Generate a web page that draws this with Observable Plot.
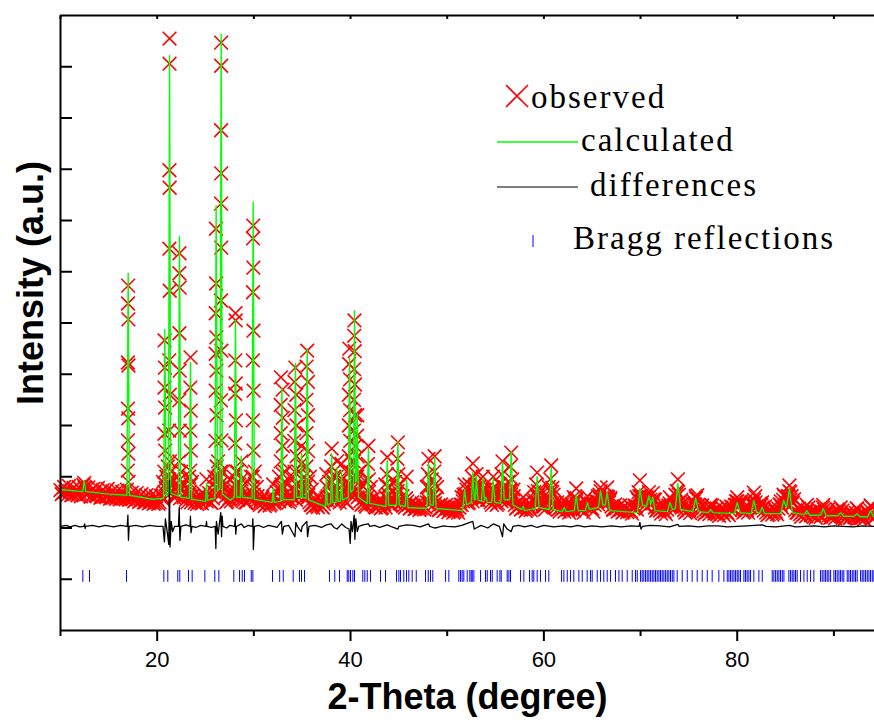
<!DOCTYPE html>
<html>
<head>
<meta charset="utf-8">
<script src="https://cdn.jsdelivr.net/npm/d3@7"></script>
<script src="https://cdn.jsdelivr.net/npm/@observablehq/plot@0.6"></script>
<style>
  html, body { margin: 0; padding: 0; background: #fff; }
</style>
</head>
<body>
<div id="chart"></div>
<script>
// ---------- DATA (2θ in degrees, intensity in arbitrary units ×1000) ----------
const obsStart = 10;
const obsStep = 0.25;
const obsBackground = [
  2.74,2.68,2.71,2.65, 2.72,2.66,2.70,2.64, 2.69,2.73,2.78,2.66, 2.70,2.63,2.68,2.62,
  2.67,2.61,2.66,2.60, 2.65,2.59,2.63,2.57, 2.64,2.58,2.62,2.56, 2.62,2.60,2.57,2.54,
  2.58,2.52,2.56,2.50, 2.55,2.50,2.54,2.49, 2.56,2.50,2.62,2.70, 2.75,2.85,2.70,2.60,
  2.62,2.70,2.78,2.60, 2.55,2.62,2.50,2.56, 2.52,2.58,2.50,2.55, 2.62,2.55,2.50,2.58,
  2.90,2.75,2.85,2.70, 2.60,2.52,2.58,2.62, 2.75,2.60,2.70,2.65, 2.55,2.50,2.58,2.70,
  2.65,2.52,2.48,2.55, 2.50,2.46,2.52,2.47, 2.60,2.50,2.55,2.75, 2.62,2.52,2.58,2.54,
  2.60,2.75,2.62,2.70, 2.65,2.72,2.58,2.50, 2.45,2.50,2.44,2.48, 2.43,2.47,2.58,2.52,
  2.62,2.55,2.70,2.58, 2.65,2.55,2.52,2.75, 2.85,2.70,2.90,2.60, 2.52,2.48,2.45,2.60,
  2.55,2.46,2.42,2.48, 2.44,2.40,2.46,2.58, 2.50,2.45,2.52,2.65, 2.55,2.48,2.44,2.58,
  2.45,2.40,2.44,2.38, 2.42,2.38,2.44,2.40, 2.55,2.50,2.62,2.48, 2.42,2.36,2.40,2.35,
  2.38,2.33,2.37,2.32, 2.36,2.40,2.45,2.58, 2.55,2.50,2.60,2.70, 2.62,2.55,2.68,2.58,
  2.62,2.55,2.50,2.62, 2.52,2.48,2.60,2.70, 2.55,2.62,2.75,2.55, 2.45,2.40,2.44,2.38,
  2.40,2.36,2.40,2.45, 2.55,2.62,2.48,2.40, 2.42,2.50,2.60,2.70, 2.50,2.40,2.36,2.40,
  2.38,2.42,2.36,2.38, 2.40,2.50,2.45,2.38, 2.36,2.42,2.50,2.40, 2.38,2.45,2.52,2.65,
  2.55,2.50,2.62,2.50, 2.42,2.36,2.38,2.34, 2.36,2.32,2.38,2.34, 2.33,2.38,2.42,2.55,
  2.60,2.50,2.45,2.52, 2.55,2.48,2.40,2.36, 2.34,2.38,2.32,2.36, 2.48,2.42,2.45,2.62,
  2.50,2.40,2.35,2.32, 2.35,2.40,2.52,2.58, 2.45,2.35,2.32,2.30, 2.32,2.38,2.34,2.30,
  2.28,2.33,2.30,2.34, 2.30,2.35,2.40,2.45, 2.52,2.44,2.36,2.32, 2.35,2.40,2.50,2.55,
  2.42,2.38,2.45,2.34, 2.30,2.27,2.32,2.29, 2.32,2.38,2.45,2.55, 2.50,2.62,2.70,2.48,
  2.35,2.30,2.27,2.31, 2.28,2.33,2.30,2.26, 2.24,2.29,2.27,2.32, 2.36,2.28,2.25,2.22,
  2.24,2.28,2.33,2.26, 2.23,2.20,2.25,2.21, 2.26,2.30,2.24,2.20, 2.22,2.26,2.30,2.35,
  2.26,2.21
];
// observed intensity at the in-between steps (10.125°, 10.375°, ...)
const obsMidStart = 10.125;
const obsBackgroundMid = [
  2.66,2.80,2.70,2.82, 2.64,2.78,2.67,2.80, 2.62,2.84,2.66,2.79, 2.61,2.76,2.64,2.78,
  2.59,2.74,2.62,2.76, 2.57,2.72,2.60,2.73, 2.56,2.71,2.58,2.75, 2.55,2.69,2.52,2.68,
  2.51,2.66,2.50,2.64, 2.48,2.63,2.47,2.62, 2.47,2.63,2.55,2.78, 2.90,2.72,2.95,2.66,
  2.80,2.58,2.88,2.67, 2.50,2.70,2.62,2.49, 2.47,2.64,2.48,2.66, 2.52,2.68,2.49,2.70,
  2.80,2.95,2.70,2.82, 2.50,2.66,2.52,2.70, 2.82,2.55,2.78,2.58, 2.50,2.64,2.55,2.80,
  2.58,2.62,2.45,2.60, 2.43,2.58,2.44,2.56, 2.48,2.70,2.52,2.85, 2.55,2.68,2.50,2.62,
  2.72,2.55,2.80,2.66, 2.58,2.80,2.64,2.45, 2.40,2.56,2.41,2.55, 2.40,2.54,2.62,2.60,
  2.72,2.52,2.75,2.50, 2.58,2.70,2.48,2.66, 2.75,2.95,2.68,2.72, 2.45,2.58,2.42,2.70,
  2.48,2.58,2.40,2.54, 2.38,2.52,2.40,2.66, 2.44,2.58,2.48,2.72, 2.48,2.62,2.40,2.52,
  2.38,2.50,2.37,2.46, 2.35,2.48,2.36,2.50, 2.48,2.62,2.55,2.58, 2.35,2.46,2.33,2.45,
  2.31,2.44,2.30,2.42, 2.30,2.46,2.52,2.66, 2.48,2.62,2.52,2.78, 2.55,2.70,2.60,2.68,
  2.55,2.66,2.45,2.70, 2.45,2.58,2.52,2.78, 2.50,2.70,2.66,2.62, 2.38,2.50,2.36,2.48,
  2.33,2.46,2.35,2.52, 2.48,2.72,2.55,2.45, 2.36,2.58,2.52,2.78, 2.44,2.50,2.32,2.46,
  2.32,2.48,2.30,2.46, 2.34,2.58,2.38,2.46, 2.30,2.50,2.44,2.48, 2.32,2.52,2.46,2.72,
  2.48,2.60,2.55,2.58, 2.36,2.46,2.32,2.44, 2.30,2.42,2.31,2.44, 2.28,2.44,2.36,2.62,
  2.52,2.60,2.40,2.60, 2.48,2.56,2.34,2.44, 2.28,2.45,2.27,2.44, 2.42,2.52,2.40,2.70,
  2.44,2.48,2.30,2.42, 2.29,2.48,2.46,2.64, 2.38,2.44,2.27,2.38, 2.27,2.44,2.28,2.38,
  2.24,2.40,2.25,2.42, 2.25,2.42,2.35,2.52, 2.46,2.52,2.30,2.40, 2.30,2.48,2.44,2.62,
  2.36,2.48,2.40,2.42, 2.25,2.36,2.26,2.38, 2.27,2.46,2.40,2.62, 2.45,2.72,2.62,2.56,
  2.30,2.38,2.22,2.38, 2.23,2.40,2.25,2.34, 2.20,2.36,2.22,2.40, 2.30,2.36,2.20,2.30,
  2.19,2.36,2.27,2.34, 2.18,2.30,2.20,2.30, 2.21,2.38,2.19,2.28, 2.17,2.34,2.25,2.42,
  2.21
];
// observed points climbing the Bragg peaks [2θ, intensity]
const obsPeaks = [
  [12.45,2.88],[12.5,2.8],
  [17.0,6.73],[16.98,6.38],[17.02,6.07],[16.97,5.23],[17.03,5.17],[16.98,4.33],[17.02,4.14],[16.97,3.71],[17.03,3.45],[16.96,3.12],[17.04,2.9],
  [20.77,5.66],[20.8,5.13],[20.76,4.74],[20.82,4.35],[20.75,3.84],[20.83,3.51],[20.74,3.1],[20.84,2.85],
  [21.28,11.55],[21.28,11.06],[21.27,8.98],[21.29,8.64],[21.26,7.45],[21.3,6.63],[21.25,5.27],[21.31,4.6],[21.24,3.9],[21.32,3.3],[21.23,2.95],
  [22.31,7.36],[22.29,6.97],[22.33,6.69],[22.3,5.8],[22.33,5.07],[22.29,4.49],[22.34,3.9],[22.28,3.3],[22.35,2.95],
  [23.45,5.33],[23.43,4.74],[23.47,4.29],[23.43,3.9],[23.48,3.51],[23.42,3.12],[23.49,2.85],
  [25.1,2.95],
  [26.08,7.84],[26.1,6.77],[26.06,6.19],[26.12,5.72],[26.05,5.4],[26.13,5.07],[26.05,4.68],[26.14,4.2],[26.04,3.7],[26.15,3.2],[26.04,2.9],
  [26.62,11.47],[26.62,11.02],[26.61,9.76],[26.63,8.92],[26.61,8.33],[26.63,7.47],[26.6,6.44],[26.64,5.46],[26.6,4.49],[26.65,3.71],[26.59,3.1],
  [28.1,6.19],[28.12,6.05],[28.08,5.27],[28.13,4.82],[28.07,4.62],[28.14,4.1],[28.07,3.65],[28.14,3.1],[28.06,2.85],
  [28.7,3.3],[28.72,2.95],
  [29.93,7.9],[29.91,7.65],[29.95,7.08],[29.91,6.6],[29.96,5.85],[29.9,5.27],[29.97,4.68],[29.9,4.1],[29.97,3.51],[29.89,3.0],
  [32.0,2.85],
  [32.8,4.94],[32.98,4.7],[32.78,4.4],[33.0,4.15],[32.78,3.85],[33.0,3.6],[32.78,3.3],[33.02,3.05],[32.8,2.8],
  [34.3,5.13],[34.2,4.85],[34.4,4.6],[34.2,4.3],[34.42,4.0],[34.18,3.7],[34.42,3.4],[34.2,3.1],[34.4,2.85],
  [34.93,3.6],[34.88,3.25],[34.98,2.95],
  [35.52,5.46],[35.45,5.15],[35.6,4.85],[35.44,4.5],[35.6,4.2],[35.44,3.85],[35.62,3.5],[35.44,3.2],[35.6,2.9],
  [37.5,3.05],[37.55,2.8],
  [38.05,3.55],[38.0,3.2],[38.1,2.9],
  [38.6,3.3],[38.55,3.0],
  [39.07,3.25],[39.1,2.95],
  [39.88,5.5],[39.85,5.2],[39.95,4.9],[39.83,4.6],[39.96,4.3],[39.83,4.0],[39.97,3.7],[39.82,3.4],[39.98,3.1],[39.84,2.85],
  [40.41,6.05],[40.38,5.75],[40.44,5.45],[40.37,5.1],[40.46,4.8],[40.36,4.5],[40.47,4.2],[40.35,3.9],[40.48,3.6],[40.35,3.3],[40.5,3.0],
  [40.7,4.2],[40.68,3.8],[40.74,3.4],[40.68,3.0],
  [41.85,3.6],[41.8,3.25],[41.9,2.95],
  [43.8,3.38],[43.75,3.05],[43.85,2.8],
  [44.9,3.67],[44.85,3.35],[44.95,3.05],[44.82,2.8],
  [45.8,3.0],
  [48.07,3.35],[48.0,3.05],[48.12,2.8],
  [48.7,3.4],[48.65,3.1],[48.75,2.85],
  [51.8,2.85],[51.7,2.65],
  [52.65,3.26],[52.55,3.0],[52.75,2.8],
  [53.03,3.05],[53.1,2.8],
  [53.69,3.0],[53.6,2.75],
  [54.0,2.75],
  [54.76,3.0],[54.7,2.75],
  [55.72,3.3],[55.62,3.05],[55.82,2.8],
  [56.62,3.47],[56.52,3.2],[56.72,2.95],[56.5,2.72],
  [57.86,2.6],
  [59.3,3.08],[59.2,2.85],[59.4,2.65],
  [60.76,3.22],[60.66,2.95],[60.86,2.7],
  [62.1,2.55],
  [63.35,2.77],[63.25,2.55],
  [64.5,2.62],
  [65.86,2.79],[65.75,2.6],
  [66.55,2.79],[66.65,2.6],
  [69.93,2.93],[69.8,2.7],[70.05,2.62],
  [70.86,2.7],[71.27,2.68],[73.03,2.6],
  [73.86,2.95],[73.75,2.72],[73.97,2.65],
  [75.7,2.62],[77.24,2.45],
  [80.0,2.6],[79.9,2.45],
  [81.72,2.69],[81.6,2.5],
  [82.58,2.5],[84.8,2.65],
  [85.4,2.83],[85.3,2.62],[85.52,2.55],
  [87.2,2.45],[88.9,2.45],[90.7,2.4],[92.4,2.38],[93.8,2.44]
];
// observed points on the overlapping peak shoulders [2θ, intensity]
const obsShoulders = [
  [20.6,2.9],[20.95,3.0],[21.1,3.2],[21.45,3.1],[21.6,2.9],[22.1,3.0],[22.5,3.1],[22.7,2.85],
  [23.3,3.0],[23.6,2.9],[25.9,3.0],[26.3,3.3],[26.45,3.0],[26.8,3.1],[27.0,2.85],[27.9,3.0],
  [28.3,3.1],[28.5,2.85],[29.7,3.0],[30.1,3.1],[30.3,2.8],[32.6,3.0],[33.2,3.1],[33.5,2.85],
  [34.0,3.0],[34.6,3.1],[35.2,3.0],[35.8,3.0],[36.0,2.75],[37.8,2.9],[38.3,3.0],[38.85,2.9],
  [39.3,2.85],[39.6,3.1],[40.15,3.3],[40.9,3.1],[41.1,2.85],[41.6,2.9],[42.1,2.8],[43.6,2.85],
  [44.0,2.8],[44.6,2.9],[45.15,2.85],[47.9,2.8],[48.4,2.95],[48.95,2.8],[51.5,2.6],[52.0,2.75],
  [52.3,2.85],[52.9,2.85],[53.3,2.8],[53.85,2.75],[54.3,2.7],[54.55,2.75],[55.0,2.7],[55.45,2.85],
  [56.0,2.8],[56.3,2.9],[56.85,2.75],[59.0,2.7],[59.55,2.7],[60.5,2.8],[61.0,2.65],[63.1,2.6],
  [65.6,2.62],[66.2,2.62],[66.85,2.55],[69.6,2.6],[70.3,2.6],[70.6,2.6],[71.5,2.55],[73.6,2.65],
  [74.2,2.55],[80.3,2.48],[81.9,2.5],[84.5,2.52],[85.1,2.6],[85.75,2.5]
];
// calculated profile [2θ, intensity]
const calcProfile = [
  [10,2.75],[12.3,2.71],[12.45,2.93],[12.6,2.71],[15,2.66],[16.87,2.64],[17.0,6.97],[17.13,2.64],
  [19.5,2.56],[20.67,2.58],[20.79,5.87],[20.93,2.62],[21.16,2.66],[21.28,11.22],[21.4,2.68],
  [22.19,2.62],[22.31,7.69],[22.43,2.6],[23.33,2.58],[23.45,5.23],[23.57,2.56],
  [25.0,2.52],[25.1,2.87],[25.2,2.54],[25.98,2.58],[26.1,8.29],[26.24,2.72],[26.5,2.78],
  [26.62,11.63],[26.74,2.66],[27.6,2.54],[27.98,2.6],[28.1,6.05],[28.22,2.6],[28.6,2.6],
  [28.7,3.40],[28.8,2.6],[29.81,2.58],[29.93,8.35],[30.05,2.56],[31.9,2.5],[32.0,2.77],
  [32.1,2.5],[32.78,2.52],[32.9,4.74],[33.02,2.55],[34.18,2.55],[34.3,5.21],[34.42,2.6],
  [34.83,2.6],[34.93,3.45],[35.03,2.6],[35.4,2.58],[35.52,5.50],[35.64,2.55],[37.4,2.42],
  [37.5,3.02],[37.6,2.45],[37.95,2.48],[38.05,3.45],[38.15,2.5],[38.5,2.5],[38.6,3.18],
  [38.7,2.52],[38.97,2.52],[39.07,3.12],[39.17,2.55],[39.78,2.6],[39.9,5.31],[40.02,2.7],
  [40.3,2.75],[40.41,6.24],[40.52,2.9],[40.62,2.9],[40.7,4.23],[40.82,2.6],[41.72,2.48],
  [41.85,3.55],[41.98,2.48],[43.66,2.42],[43.8,3.32],[43.94,2.44],[44.76,2.45],[44.9,3.69],
  [45.04,2.45],[45.66,2.42],[45.8,2.93],[45.94,2.4],[47.9,2.38],[48.07,3.26],[48.24,2.45],
  [48.55,2.45],[48.7,3.38],[48.85,2.38],[51.6,2.34],[51.8,2.75],[52.0,2.45],[52.5,2.5],
  [52.65,3.08],[52.8,2.55],[52.9,2.55],[53.03,3.00],[53.18,2.55],[53.55,2.52],[53.69,2.97],
  [53.85,2.55],[54.0,2.60],[54.15,2.5],[54.6,2.5],[54.76,2.97],[54.92,2.5],[55.55,2.48],
  [55.72,3.28],[55.9,2.55],[56.45,2.55],[56.62,3.49],[56.8,2.45],[57.7,2.36],[57.86,2.42],
  [58.0,2.34],[59.1,2.38],[59.3,3.00],[59.5,2.4],[60.55,2.36],[60.76,3.18],[60.95,2.36],
  [61.9,2.32],[62.1,2.40],[62.3,2.32],[63.15,2.34],[63.35,2.65],[63.55,2.34],[64.3,2.34],
  [64.5,2.50],[64.7,2.36],[65.65,2.4],[65.86,2.73],[66.1,2.45],[66.35,2.45],[66.55,2.69],
  [66.8,2.34],[69.7,2.3],[69.93,2.77],[70.2,2.45],[70.6,2.42],[70.86,2.63],[71.05,2.45],
  [71.27,2.60],[71.5,2.34],[72.8,2.32],[73.03,2.50],[73.3,2.36],[73.6,2.38],[73.86,2.87],
  [74.15,2.36],[75.4,2.32],[75.7,2.58],[76.0,2.32],[77.0,2.3],[77.24,2.36],[77.5,2.3],
  [79.7,2.28],[80.0,2.50],[80.3,2.3],[81.45,2.28],[81.72,2.54],[82.0,2.3],[82.35,2.3],
  [82.58,2.40],[82.85,2.28],[84.5,2.28],[84.8,2.54],[85.1,2.4],[85.4,2.77],[85.7,2.3],
  [86.9,2.26],[87.2,2.34],[87.5,2.25],[88.6,2.25],[88.9,2.38],[89.2,2.24],[90.4,2.24],
  [90.7,2.30],[91.0,2.23],[92.1,2.23],[92.4,2.28],[92.7,2.22],[93.5,2.22],[93.8,2.34],
  [94.1,2.22],[94.3,2.22]
];
// observed − calculated [2θ, difference]
const diffProfile = [
  [10,0],[10.6,0.02],[11,-0.01],[11.5,0.02],[12,-0.01],[12.4,0],[12.5,0.05],[12.55,-0.04],[12.6,0],[13.3,0.02],[14,-0.01],[14.6,0.02],[15.5,-0.01],[16.2,0.02],
  [16.9,0],[16.97,0.22],[17.03,-0.27],[17.1,0],[17.8,0.02],[18.5,-0.01],[19.2,0.02],[20,0],[20.6,0],[20.75,-0.3],[20.85,0.15],
  [21.0,-0.05],[21.2,-0.35],[21.27,0.9],[21.33,-0.4],[21.45,0.1],[21.6,-0.1],[21.8,0],[22.2,0],
  [22.28,0.37],[22.35,-0.27],[22.45,0],[23.0,0.03],[23.4,0],[23.44,0.2],[23.5,-0.12],[23.6,0],[24.0,-0.02],[24.5,0.02],
  [25.05,0],[25.1,0.1],[25.15,0],[25.6,-0.02],[26.0,0],[26.07,-0.43],[26.13,0.1],[26.3,-0.15],[26.4,0],
  [26.58,0.27],[26.66,-0.2],[26.72,0.2],[26.8,0],[27.2,-0.03],[27.5,0.02],[28.0,0],[28.07,0.15],[28.13,-0.15],
  [28.2,0],[28.7,0.05],[29.0,-0.02],[29.4,0.02],[29.85,0],[29.9,0.15],[29.95,-0.45],[30.05,0],[30.5,0.02],[31.0,-0.02],[31.5,0.02],
  [32,0],[32.4,-0.02],[32.85,0.1],[32.95,-0.15],[33.1,0],[33.6,0.02],[34.25,-0.2],[34.35,0.08],[34.5,0],
  [34.9,-0.1],[35.0,0],[35.48,0.1],[35.56,-0.2],[35.7,0],[36.3,0.02],[37,-0.02],[37.5,0.03],[38,0.05],[38.3,-0.02],
  [38.6,-0.05],[39.1,0.05],[39.5,-0.02],[39.85,-0.05],[39.97,-0.33],[40.05,0.1],[40.2,-0.1],
  [40.38,0.22],[40.45,-0.25],[40.55,0.15],[40.7,-0.1],[40.85,0],[41.3,0.03],[41.85,0.05],[42,0],
  [42.5,0.02],[43,-0.02],[43.8,0.03],[44.3,-0.01],[44.9,-0.05],[45,0],[45.8,0.03],[46.5,0.02],[47.2,-0.01],[48.07,0.05],[48.2,0],[48.7,-0.03],[49,-0.02],[49.6,0.01],[50,0],[50.8,-0.01],[51.5,0.02],
  [52.65,0.1],[52.8,-0.05],[53.5,0.02],[54.2,-0.03],[54.76,0.05],[55.4,0],[55.6,-0.12],[55.72,-0.2],
  [55.85,0.05],[56.2,-0.05],[56.62,-0.1],[56.8,0],[57.4,0.02],[58,-0.01],[58.7,0.02],[59.3,-0.02],[60,0.02],[61,-0.01],[62,0.01],[62.8,-0.01],[63.5,0.02],
  [64.2,-0.01],[65,0.01],[66,-0.01],[67,0.01],[68,-0.01],[69,0.01],[69.85,0],[69.93,0.08],[70.05,-0.05],[70.2,0],[71,0.02],[72,0.01],[73,-0.01],[73.86,0.04],[74,0],
  [75,0.01],[76,-0.01],[77,0.01],[78,0.01],[79,-0.01],[80,0],[81,0.01],[82.6,0.03],[83,0],[84,-0.01],[85.4,0.02],[86,-0.01],[87,0],[88,0.01],[89,-0.01],[90,0.01],[91,0],[92,-0.01],[93,0.01],[94.3,0]
];
// Bragg reflection positions (2θ)
const braggPositions = [
  12.31,13.0,16.83,20.69,21.1,22.13,22.34,23.24,23.62,24.93,25.96,26.38,27.93,28.52,28.8,29.03,
  29.73,29.9,31.93,32.67,33.04,34.07,34.72,34.93,35.24,37.83,38.37,38.86,39.66,39.82,40.0,40.24,
  40.41,41.27,41.48,41.73,42.07,43.1,43.62,44.76,45.0,45.17,45.51,45.79,46.03,46.38,46.8,47.76,
  48.04,48.27,48.51,49.83,50.17,51.2,51.38,51.55,51.72,52.07,52.34,52.48,52.59,52.76,53.45,53.96,
  54.14,54.48,54.66,55.17,55.45,55.59,56.21,56.38,56.55,57.59,57.93,58.52,58.79,58.96,59.31,59.65,
  60.17,60.51,61.83,62.07,62.42,62.76,63.1,63.62,63.97,64.48,64.83,65.0,65.52,65.86,66.2,66.55,
  66.9,67.41,67.76,68.1,68.62,69.14,69.48,69.66,70.0,70.17,70.34,70.52,70.69,70.86,71.04,71.21,
  71.38,71.55,71.72,71.9,72.07,72.24,72.41,72.59,72.76,72.93,73.1,73.28,73.45,73.79,74.31,74.83,
  75.34,75.86,76.38,76.9,77.41,78.1,78.62,78.97,79.14,79.31,79.48,79.66,79.83,80.0,80.17,80.34,
  80.69,80.86,81.03,81.21,81.38,81.72,82.24,82.59,83.62,83.79,83.97,84.14,84.31,84.48,84.66,84.83,
  85.34,85.52,85.69,85.86,86.03,86.2,86.55,86.9,87.24,87.59,87.93,88.62,88.79,88.97,89.14,89.31,
  89.48,89.66,90.0,90.17,90.34,90.52,90.69,90.86,91.03,91.38,91.55,91.72,91.9,92.07,92.24,92.41,
  92.76,92.93,93.1,93.28,93.45,93.62,93.79,93.97,94.14
];
const xMajorTicks = [20, 40, 60, 80];
const xMinorTicks = [10, 30, 50, 70, 90];
const yTicks = [1, 2, 3, 4, 5, 6, 7, 8, 9, 10, 11];
const xDomain = [10, 94.2];
const yDomain = [0, 12];
const diffOffset = 2.03;   // vertical offset of the difference curve
const braggLevel = [0.94, 1.17]; // vertical extent of Bragg markers
const xLabel = "2-Theta (degree)";
const yLabel = "Intensity (a.u.)";
const legendLabels = ["observed", "calculated", "differences", "Bragg reflections"];

// ---------- BUILD ----------
const observed = obsBackground.map((y, i) => ({x: obsStart + i * obsStep, y}))
  .concat(obsBackgroundMid.map((y, i) => ({x: obsMidStart + i * obsStep, y})))
  .concat(obsShoulders.map(([x, y]) => ({x, y})))
  .concat(obsPeaks.map(([x, y]) => ({x, y})));
const calculated = calcProfile.map(([x, y]) => ({x, y}));
const difference = diffProfile.map(([x, d]) => ({x, y: d + diffOffset}));

const RED = "#ff0000", GREEN = "#00ff00", BLUE = "#0000ff";

const chart = Plot.plot({
  width: 874,
  height: 724,
  marginLeft: 60,
  marginRight: 0,
  marginTop: 15,
  marginBottom: 94,
  style: {fontFamily: "'Liberation Sans', Arial, sans-serif", background: "#fff", color: "#000"},
  x: {domain: xDomain},
  y: {domain: yDomain},
  marks: [
    Plot.dot(observed, {x: "x", y: "y", symbol: "times", r: 6.3, stroke: RED, strokeWidth: 1.6}),
    Plot.line(calculated, {x: "x", y: "y", stroke: GREEN, strokeWidth: 1.4}),
    Plot.line(difference, {x: "x", y: "y", stroke: "#000", strokeWidth: 1.3}),
    Plot.ruleX(braggPositions, {x: d => d, y1: braggLevel[0], y2: braggLevel[1], stroke: BLUE, strokeWidth: 1}),
    // frame
    Plot.ruleX([xDomain[0]], {stroke: "#000", strokeWidth: 2}),
    Plot.ruleY([yDomain[0]], {stroke: "#000", strokeWidth: 2}),
    Plot.ruleY([yDomain[1]], {stroke: "#000", strokeWidth: 2}),
    // axes
    Plot.axisX({ticks: xMajorTicks, tickSize: 11, tickPadding: 10, fontSize: 22, strokeWidth: 2, tickFormat: d => String(d), label: null}),
    Plot.axisX({ticks: xMinorTicks, tickSize: 6, strokeWidth: 2, tickFormat: () => "", label: null}),
    Plot.axisX({anchor: "top", ticks: xMajorTicks.concat(xMinorTicks), tickSize: -3, strokeWidth: 2, tickFormat: () => "", label: null}),
    Plot.axisY({ticks: yTicks, tickSize: -12, strokeWidth: 2, tickFormat: () => "", label: null}),
    // axis titles
    Plot.text([xLabel], {text: d => d, frameAnchor: "bottom", lineAnchor: "bottom", dy: 78, fontSize: 36, fontWeight: "bold"}),
    Plot.text([yLabel], {text: d => d, frameAnchor: "left", textAnchor: "middle", lineAnchor: "bottom", rotate: -90, dx: -18, dy: -40, fontSize: 36, fontWeight: "bold"})
  ]
});

// legend drawn inside the frame
const svg = d3.select(chart);
const lg = svg.append("g").attr("font-family", "'Liberation Serif', 'Times New Roman', serif")
  .attr("font-size", 33).attr("letter-spacing", "2px").attr("fill", "#000").attr("text-anchor", "start");
lg.append("path").attr("d", "M506,85L528,107M506,107L528,85").attr("stroke", RED).attr("stroke-width", 1.6).attr("fill", "none");
lg.append("text").attr("x", 531).attr("y", 108).attr("text-anchor", "start").text(legendLabels[0]);
lg.append("line").attr("x1", 497).attr("x2", 578).attr("y1", 142).attr("y2", 142).attr("stroke", GREEN).attr("stroke-width", 1.3);
lg.append("text").attr("x", 581).attr("y", 151).attr("text-anchor", "start").text(legendLabels[1]);
lg.append("line").attr("x1", 497).attr("x2", 578).attr("y1", 187).attr("y2", 187).attr("stroke", "#000").attr("stroke-width", 1.2);
lg.append("text").attr("x", 590).attr("y", 196).attr("text-anchor", "start").text(legendLabels[2]);
lg.append("line").attr("x1", 533).attr("x2", 533).attr("y1", 235).attr("y2", 247).attr("stroke", BLUE).attr("stroke-width", 1);
lg.append("text").attr("x", 573).attr("y", 249).attr("text-anchor", "start").text(legendLabels[3]);

document.getElementById("chart").append(chart);
</script>
</body>
</html>
